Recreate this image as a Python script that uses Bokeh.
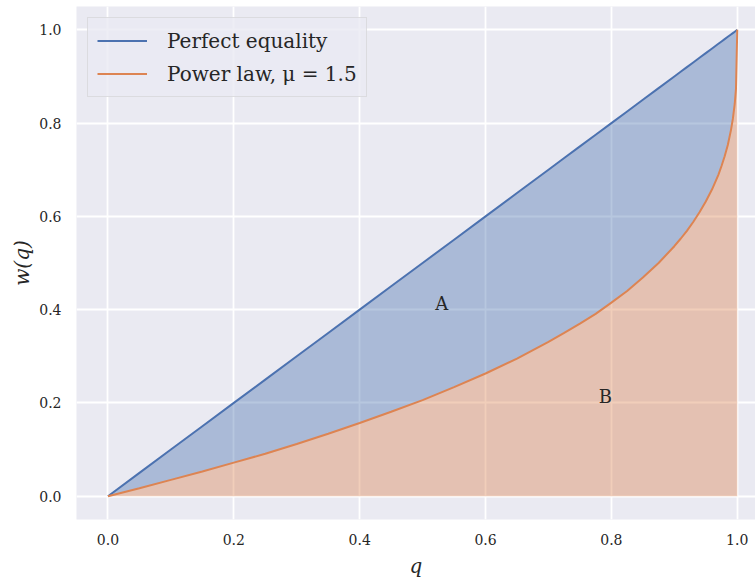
from bokeh.plotting import figure
from bokeh.models import Legend, LegendItem, FixedTicker, NumeralTickFormatter, Range1d
from bokeh.core.properties import value
from bokeh.embed import file_html
from bokeh.resources import INLINE

# Cumulative population share q and cumulative wealth share w(q) for the power law
q = [0.0, 0.05, 0.10, 0.15, 0.20, 0.25, 0.30, 0.35, 0.40, 0.45, 0.50, 0.55, 0.60,
     0.65, 0.70, 0.725, 0.75, 0.775, 0.80, 0.825, 0.85, 0.875, 0.90, 0.91, 0.92,
     0.93, 0.94, 0.95, 0.96, 0.97, 0.975, 0.98, 0.985, 0.99, 0.993, 0.996, 0.998,
     1.0]
w_power = [0.0, 0.017, 0.035, 0.053, 0.072, 0.091, 0.112, 0.134, 0.157, 0.181,
           0.206, 0.234, 0.263, 0.295, 0.331, 0.350, 0.370, 0.391, 0.415, 0.440,
           0.469, 0.500, 0.536, 0.552, 0.569, 0.588, 0.609, 0.632, 0.658, 0.689,
           0.708, 0.729, 0.753, 0.785, 0.809, 0.841, 0.874, 1.0]
# Perfect equality: wealth share equals population share
w_equal = list(q)
zeros = [0.0] * len(q)

tick_values = [0.0, 0.2, 0.4, 0.6, 0.8, 1.0]
area_labels = ["A", "B"]
area_label_x = [0.52, 0.78]
area_label_y = [0.40, 0.20]

BLUE = "#4C72B0"
ORANGE = "#DD8452"
BG = "#EAEAF2"
INK = "#262626"
FONT = "DejaVu Serif"

p = figure(width=755, height=586, output_backend="svg", toolbar_location=None,
           x_range=Range1d(-0.05, 1.029), y_range=Range1d(-0.05, 1.05),
           min_border_left=76, min_border_right=0, min_border_top=6,
           min_border_bottom=67)
p.background_fill_color = BG
p.border_fill_color = "white"
p.outline_line_color = None

# shaded regions
p.varea(x=q, y1=w_power, y2=w_equal, fill_color=BLUE, fill_alpha=0.4)
p.varea(x=q, y1=zeros, y2=w_power, fill_color=ORANGE, fill_alpha=0.4)

r_eq = p.line(q, w_equal, line_color=BLUE, line_width=2)
r_pw = p.line(q, w_power, line_color=ORANGE, line_width=2)

p.text(x=area_label_x, y=area_label_y, text=area_labels,
       text_font=value(FONT), text_font_size="18px", text_color=INK,
       text_align="left", text_baseline="alphabetic", y_offset=-6)

# grid
for g in (p.xgrid, p.ygrid):
    g.grid_line_color = "white"
    g.grid_line_width = 1.8
p.xgrid.ticker = FixedTicker(ticks=tick_values)
p.ygrid.ticker = FixedTicker(ticks=tick_values)

# axes
for ax in (p.xaxis, p.yaxis):
    ax.ticker = FixedTicker(ticks=tick_values)
    ax.formatter = NumeralTickFormatter(format="0.0")
    ax.axis_line_color = None
    ax.major_tick_line_color = None
    ax.minor_tick_line_color = None
    ax.major_tick_out = 0
    ax.major_tick_in = 0
    ax.minor_tick_out = 0
    ax.minor_tick_in = 0
    ax.major_label_text_font = FONT
    ax.major_label_text_font_size = "14px"
    ax.major_label_text_color = INK
    ax.axis_label_text_font = FONT
    ax.axis_label_text_font_size = "20px"
    ax.axis_label_text_font_style = "italic"
    ax.axis_label_text_color = INK

p.xaxis.axis_label = "q"
p.yaxis.axis_label = "w(q)"
p.xaxis.major_label_standoff = 14
p.yaxis.major_label_standoff = 15
p.xaxis.axis_label_standoff = 6
p.yaxis.axis_label_standoff = 2

legend = Legend(items=[LegendItem(label="Perfect equality", renderers=[r_eq]),
                       LegendItem(label="Power law, μ = 1.5", renderers=[r_pw])],
                location="top_left", margin=11, padding=9, spacing=6,
                glyph_width=50, glyph_height=27, label_height=27,
                label_standoff=20, label_text_font=FONT,
                label_text_font_size="20px", label_text_color=INK,
                background_fill_color=BG, background_fill_alpha=0.8,
                border_line_color="#cccccc", border_line_width=1)
p.add_layout(legend)

with open("out.html", "w") as f:
    f.write(file_html(p, INLINE))
